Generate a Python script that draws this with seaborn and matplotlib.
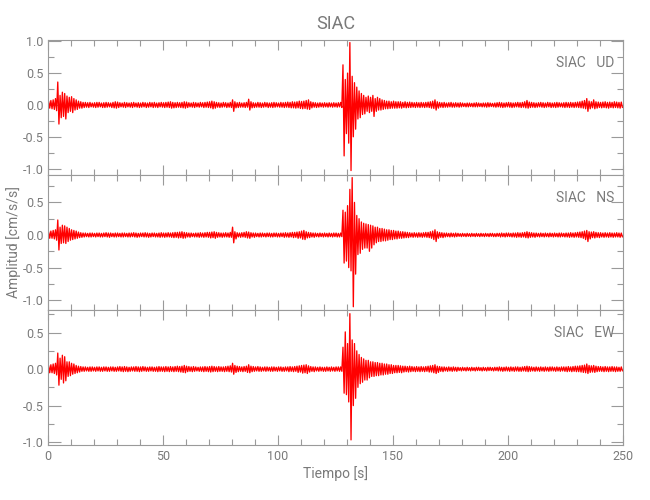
import numpy as np
import pandas as pd
import matplotlib
matplotlib.use("Agg")
import matplotlib.pyplot as plt
import seaborn as sns
from matplotlib.ticker import MultipleLocator
from matplotlib import font_manager

# ---------------- data (peak amplitudes per 1-s window) -------------
seconds = list(range(250))
station = "SIAC"
components = ["UD", "NS", "EW"]
title = "SIAC"
xlabel = "Tiempo [s]"
ylabel = "Amplitud [cm/s/s]"

ud_up = [
    0.06, 0.07, 0.08, 0.10, 0.36, 0.15, 0.20, 0.18, 0.14, 0.12,
    0.13, 0.10, 0.08, 0.06, 0.05, 0.04, 0.04, 0.035, 0.04, 0.03,
    0.035, 0.04, 0.04, 0.03, 0.035, 0.04, 0.035, 0.03, 0.04, 0.05,
    0.045, 0.035, 0.03, 0.04, 0.035, 0.03, 0.035, 0.04, 0.03, 0.035,
    0.03, 0.04, 0.035, 0.03, 0.04, 0.035, 0.04, 0.03, 0.035, 0.04,
    0.035, 0.04, 0.045, 0.05, 0.04, 0.035, 0.04, 0.035, 0.04, 0.05,
    0.045, 0.035, 0.03, 0.04, 0.035, 0.03, 0.04, 0.035, 0.04, 0.045,
    0.05, 0.06, 0.05, 0.04, 0.035, 0.03, 0.04, 0.035, 0.03, 0.04,
    0.08, 0.05, 0.035, 0.04, 0.03, 0.035, 0.04, 0.09, 0.05, 0.035,
    0.03, 0.04, 0.035, 0.03, 0.04, 0.035, 0.03, 0.035, 0.04, 0.035,
    0.03, 0.04, 0.035, 0.04, 0.045, 0.04, 0.05, 0.045, 0.05, 0.06,
    0.055, 0.06, 0.07, 0.08, 0.05, 0.04, 0.035, 0.03, 0.035, 0.03,
    0.035, 0.03, 0.035, 0.03, 0.035, 0.03, 0.035, 0.04, 0.63, 0.40,
    0.50, 0.98, 0.45, 0.35, 0.28, 0.22, 0.18, 0.15, 0.12, 0.14,
    0.12, 0.15, 0.10, 0.12, 0.10, 0.08, 0.07, 0.06, 0.06, 0.05,
    0.06, 0.05, 0.05, 0.05, 0.04, 0.05, 0.04, 0.045, 0.04, 0.035,
    0.04, 0.035, 0.04, 0.035, 0.04, 0.045, 0.05, 0.06, 0.08, 0.05,
    0.04, 0.035, 0.04, 0.03, 0.035, 0.04, 0.03, 0.035, 0.03, 0.035,
    0.03, 0.025, 0.03, 0.03, 0.025, 0.03, 0.035, 0.03, 0.025, 0.03,
    0.03, 0.035, 0.03, 0.025, 0.03, 0.035, 0.04, 0.035, 0.03, 0.035,
    0.04, 0.035, 0.03, 0.035, 0.04, 0.035, 0.04, 0.05, 0.07, 0.045,
    0.04, 0.035, 0.03, 0.035, 0.04, 0.035, 0.03, 0.04, 0.035, 0.03,
    0.035, 0.04, 0.035, 0.03, 0.035, 0.04, 0.035, 0.04, 0.035, 0.04,
    0.045, 0.05, 0.06, 0.07, 0.10, 0.06, 0.05, 0.08, 0.05, 0.045,
    0.04, 0.045, 0.05, 0.04, 0.045, 0.04, 0.05, 0.045, 0.04, 0.045,
]
ud_down = [
    0.05, 0.06, 0.07, 0.09, 0.30, 0.20, 0.18, 0.22, 0.12, 0.10,
    0.12, 0.08, 0.07, 0.05, 0.05, 0.04, 0.035, 0.04, 0.03, 0.035,
    0.04, 0.035, 0.03, 0.04, 0.04, 0.035, 0.03, 0.04, 0.045, 0.05,
    0.04, 0.03, 0.035, 0.04, 0.03, 0.035, 0.04, 0.03, 0.035, 0.04,
    0.035, 0.03, 0.04, 0.035, 0.03, 0.04, 0.035, 0.04, 0.03, 0.035,
    0.04, 0.035, 0.04, 0.05, 0.045, 0.04, 0.035, 0.04, 0.045, 0.05,
    0.04, 0.03, 0.035, 0.04, 0.03, 0.035, 0.03, 0.04, 0.035, 0.04,
    0.045, 0.06, 0.05, 0.035, 0.04, 0.035, 0.03, 0.04, 0.035, 0.04,
    0.10, 0.045, 0.04, 0.035, 0.035, 0.04, 0.035, 0.08, 0.045, 0.04,
    0.035, 0.035, 0.04, 0.035, 0.03, 0.04, 0.035, 0.04, 0.035, 0.03,
    0.035, 0.035, 0.04, 0.035, 0.04, 0.045, 0.045, 0.05, 0.045, 0.055,
    0.06, 0.055, 0.065, 0.07, 0.045, 0.035, 0.04, 0.035, 0.03, 0.035,
    0.03, 0.035, 0.03, 0.035, 0.03, 0.035, 0.03, 0.04, 0.80, 0.45,
    0.60, 1.03, 0.50, 0.38, 0.22, 0.20, 0.15, 0.14, 0.10, 0.12,
    0.10, 0.18, 0.10, 0.08, 0.08, 0.07, 0.06, 0.06, 0.055, 0.05,
    0.05, 0.05, 0.045, 0.05, 0.04, 0.045, 0.04, 0.04, 0.035, 0.04,
    0.035, 0.04, 0.035, 0.04, 0.035, 0.04, 0.05, 0.055, 0.08, 0.05,
    0.035, 0.04, 0.035, 0.035, 0.03, 0.035, 0.035, 0.03, 0.035, 0.03,
    0.025, 0.03, 0.03, 0.025, 0.03, 0.03, 0.03, 0.025, 0.03, 0.03,
    0.035, 0.03, 0.025, 0.03, 0.035, 0.03, 0.035, 0.04, 0.035, 0.03,
    0.035, 0.04, 0.035, 0.03, 0.035, 0.04, 0.035, 0.045, 0.05, 0.04,
    0.035, 0.04, 0.035, 0.03, 0.035, 0.04, 0.035, 0.03, 0.04, 0.035,
    0.04, 0.035, 0.03, 0.035, 0.04, 0.035, 0.04, 0.035, 0.04, 0.035,
    0.04, 0.045, 0.05, 0.06, 0.10, 0.06, 0.045, 0.06, 0.05, 0.04,
    0.045, 0.04, 0.045, 0.05, 0.04, 0.045, 0.04, 0.045, 0.05, 0.04,
]
ns_up = [
    0.05, 0.06, 0.07, 0.08, 0.23, 0.12, 0.15, 0.14, 0.12, 0.10,
    0.08, 0.07, 0.06, 0.045, 0.035, 0.03, 0.03, 0.025, 0.03, 0.03,
    0.025, 0.03, 0.03, 0.025, 0.03, 0.035, 0.03, 0.03, 0.025, 0.03,
    0.03, 0.025, 0.03, 0.03, 0.025, 0.03, 0.03, 0.035, 0.03, 0.025,
    0.03, 0.03, 0.035, 0.03, 0.025, 0.03, 0.03, 0.025, 0.03, 0.035,
    0.03, 0.03, 0.035, 0.03, 0.035, 0.04, 0.04, 0.045, 0.05, 0.04,
    0.035, 0.03, 0.03, 0.025, 0.03, 0.03, 0.035, 0.03, 0.035, 0.04,
    0.04, 0.045, 0.05, 0.04, 0.035, 0.03, 0.03, 0.035, 0.03, 0.04,
    0.12, 0.05, 0.035, 0.03, 0.035, 0.04, 0.05, 0.045, 0.035, 0.03,
    0.03, 0.025, 0.03, 0.03, 0.025, 0.03, 0.03, 0.025, 0.03, 0.03,
    0.025, 0.03, 0.03, 0.035, 0.03, 0.035, 0.04, 0.04, 0.045, 0.05,
    0.06, 0.07, 0.05, 0.04, 0.035, 0.03, 0.03, 0.025, 0.03, 0.025,
    0.03, 0.025, 0.03, 0.025, 0.03, 0.03, 0.025, 0.03, 0.38, 0.35,
    0.45, 0.70, 0.88, 0.50, 0.30, 0.25, 0.20, 0.18, 0.17, 0.16,
    0.15, 0.14, 0.12, 0.12, 0.10, 0.10, 0.09, 0.08, 0.08, 0.07,
    0.07, 0.06, 0.06, 0.05, 0.05, 0.045, 0.04, 0.035, 0.03, 0.035,
    0.03, 0.035, 0.03, 0.035, 0.04, 0.04, 0.05, 0.06, 0.08, 0.05,
    0.04, 0.035, 0.03, 0.03, 0.025, 0.03, 0.025, 0.03, 0.025, 0.02,
    0.025, 0.02, 0.025, 0.02, 0.025, 0.02, 0.025, 0.02, 0.025, 0.02,
    0.025, 0.02, 0.025, 0.025, 0.02, 0.025, 0.025, 0.03, 0.025, 0.03,
    0.03, 0.025, 0.03, 0.03, 0.035, 0.03, 0.035, 0.04, 0.05, 0.04,
    0.035, 0.03, 0.03, 0.025, 0.03, 0.025, 0.03, 0.025, 0.03, 0.025,
    0.03, 0.025, 0.03, 0.03, 0.025, 0.03, 0.03, 0.035, 0.03, 0.035,
    0.04, 0.045, 0.05, 0.06, 0.07, 0.05, 0.045, 0.05, 0.04, 0.035,
    0.035, 0.03, 0.035, 0.03, 0.035, 0.03, 0.03, 0.035, 0.03, 0.03,
]
ns_down = [
    0.05, 0.05, 0.06, 0.08, 0.23, 0.13, 0.12, 0.13, 0.10, 0.08,
    0.07, 0.06, 0.05, 0.04, 0.035, 0.03, 0.025, 0.03, 0.03, 0.025,
    0.03, 0.025, 0.03, 0.03, 0.025, 0.03, 0.035, 0.025, 0.03, 0.03,
    0.025, 0.03, 0.03, 0.025, 0.03, 0.03, 0.025, 0.03, 0.035, 0.03,
    0.025, 0.03, 0.03, 0.035, 0.03, 0.025, 0.03, 0.03, 0.035, 0.03,
    0.035, 0.03, 0.03, 0.035, 0.04, 0.035, 0.045, 0.04, 0.05, 0.045,
    0.03, 0.035, 0.025, 0.03, 0.03, 0.035, 0.03, 0.035, 0.03, 0.035,
    0.045, 0.04, 0.05, 0.035, 0.03, 0.035, 0.03, 0.03, 0.035, 0.035,
    0.12, 0.06, 0.03, 0.035, 0.03, 0.035, 0.045, 0.05, 0.03, 0.035,
    0.025, 0.03, 0.03, 0.025, 0.03, 0.025, 0.03, 0.03, 0.025, 0.03,
    0.03, 0.025, 0.035, 0.03, 0.035, 0.03, 0.04, 0.035, 0.05, 0.045,
    0.065, 0.07, 0.045, 0.04, 0.03, 0.035, 0.025, 0.03, 0.025, 0.03,
    0.025, 0.03, 0.025, 0.03, 0.025, 0.03, 0.03, 0.025, 0.43, 0.40,
    0.50, 0.55, 1.10, 0.60, 0.30, 0.28, 0.22, 0.20, 0.20, 0.25,
    0.20, 0.15, 0.12, 0.10, 0.10, 0.09, 0.09, 0.08, 0.07, 0.07,
    0.06, 0.06, 0.05, 0.05, 0.045, 0.04, 0.04, 0.03, 0.035, 0.03,
    0.035, 0.03, 0.035, 0.03, 0.035, 0.04, 0.05, 0.07, 0.10, 0.05,
    0.035, 0.04, 0.03, 0.025, 0.03, 0.025, 0.03, 0.025, 0.02, 0.025,
    0.02, 0.025, 0.02, 0.025, 0.02, 0.025, 0.02, 0.025, 0.02, 0.025,
    0.02, 0.025, 0.02, 0.025, 0.025, 0.02, 0.03, 0.025, 0.03, 0.025,
    0.025, 0.03, 0.03, 0.035, 0.03, 0.035, 0.03, 0.04, 0.045, 0.035,
    0.03, 0.035, 0.025, 0.03, 0.025, 0.03, 0.025, 0.03, 0.025, 0.03,
    0.025, 0.03, 0.03, 0.025, 0.03, 0.03, 0.035, 0.03, 0.035, 0.03,
    0.035, 0.04, 0.05, 0.07, 0.10, 0.06, 0.04, 0.045, 0.035, 0.04,
    0.03, 0.035, 0.03, 0.035, 0.03, 0.035, 0.03, 0.03, 0.035, 0.03,
]
ew_up = [
    0.05, 0.06, 0.07, 0.08, 0.22, 0.15, 0.19, 0.17, 0.10, 0.10,
    0.08, 0.07, 0.05, 0.04, 0.035, 0.03, 0.03, 0.025, 0.03, 0.03,
    0.025, 0.03, 0.03, 0.025, 0.03, 0.03, 0.025, 0.03, 0.03, 0.025,
    0.03, 0.035, 0.03, 0.035, 0.03, 0.025, 0.03, 0.03, 0.035, 0.03,
    0.03, 0.035, 0.03, 0.025, 0.03, 0.03, 0.025, 0.03, 0.035, 0.03,
    0.03, 0.035, 0.03, 0.035, 0.03, 0.035, 0.04, 0.035, 0.04, 0.05,
    0.04, 0.035, 0.03, 0.035, 0.03, 0.025, 0.03, 0.03, 0.035, 0.03,
    0.035, 0.04, 0.035, 0.03, 0.035, 0.03, 0.03, 0.035, 0.04, 0.045,
    0.08, 0.05, 0.04, 0.035, 0.03, 0.035, 0.04, 0.06, 0.04, 0.035,
    0.03, 0.035, 0.03, 0.025, 0.03, 0.03, 0.025, 0.03, 0.03, 0.025,
    0.03, 0.03, 0.025, 0.03, 0.03, 0.035, 0.03, 0.035, 0.04, 0.045,
    0.05, 0.055, 0.06, 0.045, 0.035, 0.03, 0.03, 0.025, 0.03, 0.025,
    0.025, 0.03, 0.025, 0.03, 0.025, 0.03, 0.03, 0.03, 0.30, 0.51,
    0.35, 0.76, 0.40, 0.35, 0.25, 0.20, 0.16, 0.14, 0.12, 0.12,
    0.10, 0.10, 0.09, 0.09, 0.08, 0.08, 0.07, 0.07, 0.06, 0.06,
    0.05, 0.05, 0.05, 0.045, 0.04, 0.04, 0.035, 0.04, 0.035, 0.03,
    0.035, 0.03, 0.035, 0.03, 0.035, 0.04, 0.045, 0.05, 0.06, 0.04,
    0.035, 0.03, 0.03, 0.025, 0.03, 0.025, 0.03, 0.025, 0.025, 0.02,
    0.025, 0.02, 0.025, 0.02, 0.025, 0.02, 0.025, 0.025, 0.02, 0.025,
    0.02, 0.025, 0.025, 0.02, 0.025, 0.025, 0.03, 0.025, 0.025, 0.03,
    0.025, 0.03, 0.025, 0.03, 0.03, 0.025, 0.03, 0.035, 0.04, 0.035,
    0.03, 0.025, 0.03, 0.025, 0.03, 0.025, 0.03, 0.025, 0.03, 0.03,
    0.025, 0.03, 0.025, 0.03, 0.03, 0.03, 0.035, 0.03, 0.035, 0.04,
    0.04, 0.045, 0.05, 0.055, 0.07, 0.05, 0.045, 0.05, 0.04, 0.035,
    0.035, 0.03, 0.035, 0.03, 0.03, 0.035, 0.03, 0.03, 0.025, 0.03,
]
ew_down = [
    0.05, 0.05, 0.06, 0.08, 0.22, 0.14, 0.19, 0.16, 0.10, 0.09,
    0.07, 0.06, 0.05, 0.04, 0.03, 0.03, 0.025, 0.03, 0.03, 0.025,
    0.03, 0.025, 0.03, 0.03, 0.025, 0.03, 0.03, 0.025, 0.03, 0.03,
    0.025, 0.03, 0.035, 0.03, 0.035, 0.03, 0.025, 0.03, 0.03, 0.035,
    0.03, 0.025, 0.03, 0.03, 0.025, 0.03, 0.03, 0.035, 0.03, 0.03,
    0.035, 0.03, 0.035, 0.03, 0.035, 0.03, 0.035, 0.04, 0.045, 0.05,
    0.035, 0.03, 0.035, 0.03, 0.025, 0.03, 0.03, 0.035, 0.03, 0.035,
    0.04, 0.035, 0.03, 0.035, 0.03, 0.03, 0.035, 0.03, 0.035, 0.04,
    0.07, 0.045, 0.035, 0.03, 0.035, 0.03, 0.045, 0.05, 0.035, 0.03,
    0.025, 0.03, 0.03, 0.025, 0.03, 0.025, 0.03, 0.03, 0.025, 0.03,
    0.025, 0.03, 0.03, 0.025, 0.035, 0.03, 0.035, 0.03, 0.045, 0.04,
    0.055, 0.05, 0.06, 0.04, 0.03, 0.035, 0.025, 0.03, 0.025, 0.03,
    0.03, 0.025, 0.03, 0.025, 0.03, 0.025, 0.03, 0.03, 0.33, 0.35,
    0.45, 0.97, 0.50, 0.40, 0.25, 0.20, 0.18, 0.15, 0.15, 0.12,
    0.10, 0.10, 0.09, 0.09, 0.08, 0.08, 0.07, 0.07, 0.06, 0.06,
    0.05, 0.05, 0.045, 0.05, 0.04, 0.035, 0.04, 0.035, 0.03, 0.035,
    0.03, 0.035, 0.03, 0.035, 0.03, 0.04, 0.04, 0.05, 0.06, 0.045,
    0.03, 0.035, 0.025, 0.03, 0.025, 0.03, 0.025, 0.03, 0.02, 0.025,
    0.02, 0.025, 0.02, 0.025, 0.02, 0.025, 0.02, 0.02, 0.025, 0.02,
    0.025, 0.02, 0.02, 0.025, 0.02, 0.025, 0.025, 0.03, 0.025, 0.025,
    0.03, 0.025, 0.03, 0.025, 0.03, 0.03, 0.025, 0.03, 0.035, 0.03,
    0.025, 0.03, 0.025, 0.03, 0.025, 0.03, 0.025, 0.03, 0.025, 0.025,
    0.03, 0.025, 0.03, 0.025, 0.03, 0.035, 0.03, 0.035, 0.03, 0.035,
    0.035, 0.04, 0.045, 0.05, 0.06, 0.045, 0.04, 0.045, 0.035, 0.03,
    0.03, 0.035, 0.03, 0.035, 0.03, 0.03, 0.035, 0.03, 0.03, 0.025,
]

ups = {"UD": ud_up, "NS": ns_up, "EW": ew_up}
downs = {"UD": ud_down, "NS": ns_down, "EW": ew_down}
ylims = {"UD": (-1.10, 1.02), "NS": (-1.15, 0.92), "EW": (-1.04, 0.81)}

# ---------------- style ----------------
sns.set_style("white")
available = {f.name for f in font_manager.fontManager.ttflist}
fam = [f for f in ["Liberation Sans Narrow", "DejaVu Sans Condensed", "Roboto", "Liberation Sans", "DejaVu Sans"] if f in available]
if "DejaVu Sans" not in fam:
    fam.append("DejaVu Sans")
plt.rcParams["font.family"] = fam
GRAY = "#7a7a7a"
AXC = "#9a9a9a"

fig = plt.figure(figsize=(6.5, 5.0), dpi=100)
left, width, h = 48 / 650, 575 / 650, 135 / 500
tops = [40, 175, 310]
axes = []
for i, comp in enumerate(components):
    ax = fig.add_axes([left, 1 - (tops[i] + 135) / 500, width, h])
    t = np.repeat(np.asarray(seconds, float), 2) + np.tile([0.25, 0.75], len(seconds))
    v = np.column_stack([np.asarray(ups[comp]), -np.asarray(downs[comp])]).ravel()
    df = pd.DataFrame({"t": t, "amp": v})
    sns.lineplot(data=df, x="t", y="amp", ax=ax, color="#ff0000", linewidth=0.95,
                 estimator=None, sort=False)
    ax.set_xlim(0, 250)
    ax.set_ylim(*ylims[comp])
    ax.set_xlabel("")
    ax.set_ylabel("")
    ax.xaxis.set_major_locator(MultipleLocator(50))
    ax.xaxis.set_minor_locator(MultipleLocator(10))
    ax.yaxis.set_major_locator(MultipleLocator(0.5))
    ax.yaxis.set_minor_locator(MultipleLocator(0.25))
    ax.yaxis.set_major_formatter(matplotlib.ticker.FormatStrFormatter("%.1f"))
    ax.tick_params(which="both", direction="in", top=True, right=True, bottom=True, left=True,
                   colors=AXC, labelcolor=GRAY, labelsize=9, width=0.8)
    ax.tick_params(which="major", axis="y", length=9)
    ax.tick_params(which="minor", axis="y", length=4.5)
    ax.tick_params(which="major", axis="x", length=7)
    ax.tick_params(which="minor", axis="x", length=4)
    ax.tick_params(axis="y", pad=3)
    for s in ax.spines.values():
        s.set_color(AXC)
        s.set_linewidth(0.8)
    if i < 2:
        ax.tick_params(labelbottom=False)
    ax.text(0.985, 0.83, f"{station}   {comp}", transform=ax.transAxes, ha="right", va="center",
            color=GRAY, fontsize=10)
    axes.append(ax)

axes[0].set_title(title, color=GRAY, fontsize=13, pad=8)
axes[2].set_xlabel(xlabel, color=GRAY, fontsize=10, labelpad=2)
fig.text(14 / 650, 1 - 242 / 500, ylabel, rotation=90, ha="center", va="center", color=GRAY, fontsize=10)

fig.savefig("out.png", dpi=100, facecolor="white")
